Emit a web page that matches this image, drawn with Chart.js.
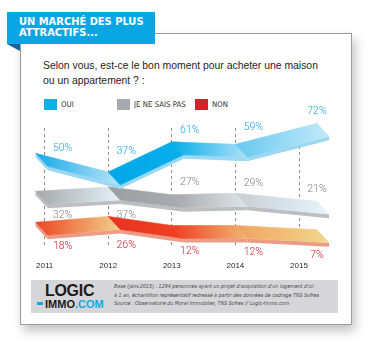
<!DOCTYPE html>
<html lang="fr">
<head>
<meta charset="utf-8">
<title>Un marché des plus attractifs</title>
<script src="https://cdn.jsdelivr.net/npm/chart.js@4.4.1/dist/chart.umd.min.js"></script>
<style>
  html, body { margin: 0; padding: 0; background: #fff; }
  body { width: 374px; height: 348px; position: relative; overflow: hidden; font-family: "Liberation Sans", Arial, sans-serif; }
  .carte { position: absolute; left: 20px; top: 33px; width: 332px; height: 292px; box-sizing: border-box; border: 1px solid #9d9d9d; background: #fff; box-shadow: 3px 6px 10px rgba(0,0,0,0.24); }
  .onglet { position: absolute; left: 7px; top: 12px; width: 148px; height: 32px; background: #0aa6e4; }
  .pli { position: absolute; left: 7px; top: 44px; width: 0; height: 0; border-top: 7px solid #14639b; border-left: 13px solid transparent; }
  .onglet-titre { position: absolute; left: 12px; top: 5px; color: #fff; font: bold 11px/10.5px "Liberation Sans Narrow", "DejaVu Sans Condensed", sans-serif; white-space: nowrap; }
  .question { position: absolute; left: 43px; top: 58px; color: #231f20; font-size: 10.4px; line-height: 15px; white-space: nowrap; }
  .legende { position: absolute; top: 99px; height: 11px; }
  .legende i { position: absolute; left: 0; top: 0; width: 13px; height: 11px; }
  .legende span { position: absolute; left: 17px; top: 1px; font: 7.8px/10px "Liberation Sans Narrow", "DejaVu Sans Condensed", sans-serif; color: #333; white-space: nowrap; }
  #graphique { position: absolute; left: 20px; top: 95px; }
  .pied { position: absolute; left: 31px; top: 280px; width: 307px; height: 33px; background: #d6d5d8; }
  .logo1 { position: absolute; left: 14px; top: 3px; font: bold 16px/16px "Liberation Sans", Arial, sans-serif; color: #1b1b1b; letter-spacing: -0.3px; }
  .logo2 { position: absolute; left: 6px; top: 18px; font: bold 11px/12px "Liberation Sans", Arial, sans-serif; color: #1b1b1b; white-space: nowrap; }
  .logo2 b { color: #12a8e6; }
  .tiret { display: inline-block; width: 6px; height: 3px; background: #12a8e6; vertical-align: 3px; margin-right: 2px; }
  .source { position: absolute; left: 83px; top: 3px; font: italic 8px/12.6px "Liberation Sans Narrow", "DejaVu Sans Condensed", sans-serif; color: #4a4a4f; white-space: nowrap; transform: scale(0.66); transform-origin: 0 0; }
</style>
</head>
<body>
<div class="carte"></div>
<div class="onglet"><div class="onglet-titre">UN MARCHÉ DES PLUS<br>ATTRACTIFS...</div></div>
<div class="pli"></div>
<div class="question">Selon vous, est-ce le bon moment pour acheter une maison<br>ou un appartement ? :</div>
<div id="legende"></div>
<canvas id="graphique" width="330" height="180"></canvas>
<div class="pied">
  <div class="logo1">LOGIC</div>
  <div class="logo2"><span class="tiret"></span>IMMO<b>.COM</b></div>
  <div class="source">Base (janv.2015) : 1294 personnes ayant un projet d'acquisition d'un logement d'ici<br>à 1 an, échantillon représentatif redressé à partir des données de cadrage TNS Sofres<br>Source : Observatoire du Moral Immobilier, TNS Sofres // Logic-Immo.com</div>
</div>
<script>
// Données
const annees = ['2011', '2012', '2013', '2014', '2015'];
const series = ['OUI', 'JE NE SAIS PAS', 'NON'];
const oui = [50, 37, 61, 59, 72];
const nsp = [32, 37, 27, 29, 21];
const non = [18, 26, 12, 12, 7];

// Styles des rubans : un dégradé par tronçon, une couleur de tranche
const styles = [
  { carre: '#12aee8', texte: '#1aa7e2', cote: '#9dd8f3',
    faces: [['#16a9e6', '#b8e4f8'], ['#00a7e7', '#0aafeb'], ['#06adea', '#aee0f6'], ['#66c9f0', '#c4e9f9']],
    etiquettes: ['dessus', 'dessus', 'dessus', 'dessus', 'dessus'] },
  { carre: '#a7a9ac', texte: '#808285', cote: '#bcbec1',
    faces: [['#a6a8ab', '#e5f2f8'], ['#9c9ea1', '#a9abae'], ['#a5a7aa', '#dfe5e9'], ['#c8ced2', '#e6f4fb']],
    etiquettes: ['dessous', 'dessous', 'dessus', 'dessus', 'dessus'] },
  { carre: '#d2232a', texte: '#d7182a', cote: '#eb9c86',
    faces: [['#ec4524', '#f3d08a'], ['#e8321f', '#ef4223'], ['#ee3d22', '#f1b672'], ['#f0a25f', '#f2d78f']],
    etiquettes: ['dessous', 'dessous', 'dessous', 'dessous', 'dessous'] }
];

// Légende
const legende = document.getElementById('legende');
const posLegende = [44, 117, 195];
series.forEach((nom, i) => {
  const d = document.createElement('div');
  d.className = 'legende';
  d.style.left = posLegende[i] + 'px';
  d.innerHTML = '<i style="background:' + styles[i].carre + '"></i><span>' + nom + '</span>';
  legende.appendChild(d);
});

const EP_X = 12, EP_Y = 13, TRANCHE = 4;

function prolonge(a, b, dx) {
  const t = dx / Math.abs(b.x - a.x);
  return { x: b.x + (b.x - a.x) * t, y: b.y + (b.y - a.y) * t };
}

function ySur(ligne, x) {
  for (let i = 0; i < ligne.length - 1; i++) {
    const a = ligne[i], b = ligne[i + 1];
    if (x >= a.x && x <= b.x) return a.y + (b.y - a.y) * (x - a.x) / (b.x - a.x);
  }
  return ligne[ligne.length - 1].y;
}

function poly(ctx, pts, fill) {
  ctx.beginPath();
  ctx.moveTo(pts[0].x, pts[0].y);
  for (let i = 1; i < pts.length; i++) ctx.lineTo(pts[i].x, pts[i].y);
  ctx.closePath();
  ctx.fillStyle = fill;
  ctx.fill();
}

const pluginRubans = {
  id: 'rubans',
  afterDatasetsDraw(chart) {
    const ctx = chart.ctx;
    ctx.save();
    // NON en dessous, OUI par-dessus
    [2, 1, 0].forEach(k => {
      const st = styles[k];
      const pts = chart.getDatasetMeta(k).data.map(p => ({ x: p.x, y: p.y }));
      const n = pts.length;
      const dos = [prolonge(pts[1], pts[0], 9)].concat(pts.slice(1, n - 1), [prolonge(pts[n - 2], pts[n - 1], 18)]);
      const face = dos.map(p => ({ x: p.x + EP_X, y: p.y + EP_Y }));
      const bas = face.map(p => ({ x: p.x, y: p.y + TRANCHE }));

      // tranches
      poly(ctx, [dos[0], face[0], bas[0], { x: dos[0].x, y: dos[0].y + TRANCHE }], st.cote);
      for (let i = 0; i < dos.length - 1; i++) {
        poly(ctx, [face[i], face[i + 1], bas[i + 1], bas[i]], st.cote);
      }
      // dessus du ruban
      for (let i = 0; i < dos.length - 1; i++) {
        const g = ctx.createLinearGradient(dos[i].x, 0, face[i + 1].x, 0);
        g.addColorStop(0, st.faces[i][0]);
        g.addColorStop(1, st.faces[i][1]);
        ctx.strokeStyle = g;
        ctx.lineWidth = 0.6;
        poly(ctx, [dos[i], dos[i + 1], face[i + 1], face[i]], g);
        ctx.stroke();
      }

      // valeurs
      const valeurs = chart.data.datasets[k].data;
      ctx.font = '300 10.5px Roboto, "Liberation Sans", sans-serif';
      ctx.fillStyle = st.texte;
      ctx.textAlign = 'center';
      ctx.textBaseline = 'middle';
      pts.forEach((p, i) => {
        const x = p.x + 18;
        const y = ySur(dos, x);
        const ty = st.etiquettes[i] === 'dessus' ? y - 12 : y + EP_Y + TRANCHE + 9;
        ctx.fillText(valeurs[i] + '%', x, ty);
      });
    });
    ctx.restore();
  }
};

const ctx = document.getElementById('graphique').getContext('2d');
const graphique = new Chart(ctx, {
  type: 'line',
  data: {
    labels: annees,
    datasets: [
      { label: series[0], data: oui, yAxisID: 'yOui', showLine: false, pointRadius: 0 },
      { label: series[1], data: nsp, yAxisID: 'yNsp', showLine: false, pointRadius: 0 },
      { label: series[2], data: non, yAxisID: 'yNon', showLine: false, pointRadius: 0 }
    ]
  },
  options: {
    responsive: false,
    animation: false,
    layout: { padding: { left: 24, right: 51, top: 33, bottom: 0 } },
    plugins: { legend: { display: false }, tooltip: { enabled: false } },
    scales: {
      x: {
        offset: false,
        grid: { color: '#8c8c8c', lineWidth: 1, drawTicks: false },
        border: { display: false, dash: [3, 3] },
        ticks: { color: '#231f20', padding: 16, maxRotation: 0, font: { family: '"Liberation Sans Narrow", "Liberation Sans", sans-serif', size: 8 } },
        afterFit: (axe) => { axe.height = 30; }
      },
      // une échelle par série pour étager les rubans
      yOui: { display: false, min: -21, max: 72 },
      yNsp: { display: false, min: -37, max: 112 },
      yNon: { display: false, min: -18, max: 162 }
    }
  },
  plugins: [pluginRubans]
});
</script>
</body>
</html>
